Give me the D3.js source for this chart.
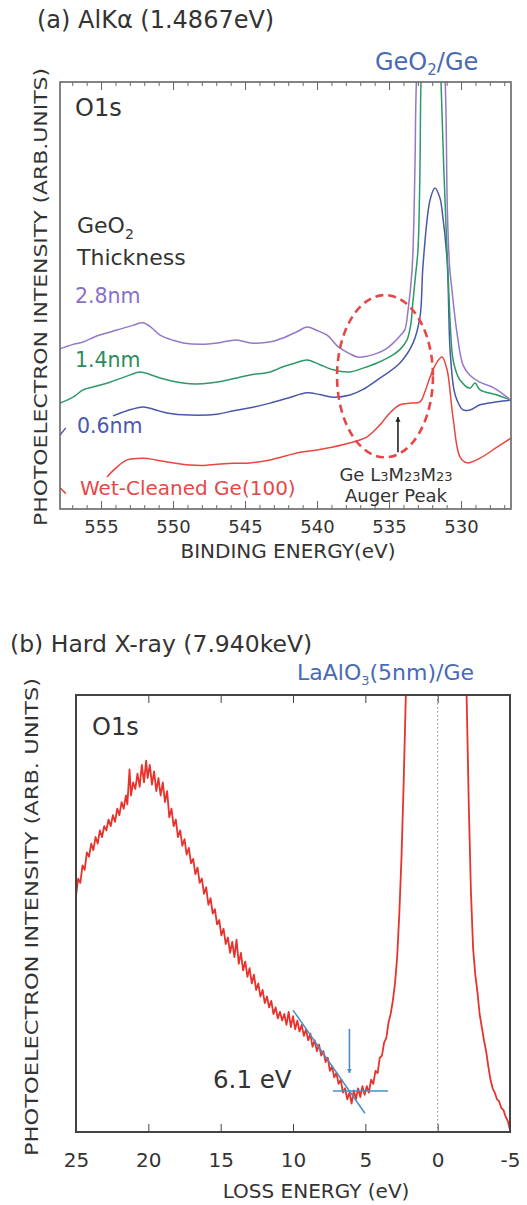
<!DOCTYPE html>
<html>
<head>
<meta charset="utf-8">
<script src="https://cdn.jsdelivr.net/npm/d3@7"></script>
<style>
body { margin: 0; background: #fff; }
svg text { font-family: "DejaVu Sans", sans-serif; fill: #333; }
</style>
</head>
<body>
<div id="chart"></div>
<script>
const width = 527;
const height = 1205;

// ---- (a) O1s spectra : [binding energy (eV), intensity (arb.)]
const thick28 = [[557.85,37.5],[557.0,38.5],[556.25,39.1],[555.3,40.5],[553.9,41.9],[552.8,43],[552.1,43.6],[551.5,42.5],[550.9,40.7],[550.0,39.5],[549.3,38.9],[548.0,38.6],[546.9,38.9],[545.6,39.6],[544.6,38.9],[543.3,39.1],[542.4,40.0],[541.4,41.5],[540.7,42.6],[540.0,41.8],[539.3,40.7],[538.5,37.9],[537.8,36.5],[537.2,35.6],[536.5,35.8],[535.8,36.5],[535.2,37.5],[534.7,38.9],[534.2,40.7],[533.9,42],[533.7,46],[533.4,56],[533.2,80],[533.1,100],[532.6,130],[532.1,140],[531.6,130],[531.1,100],[530.95,70],[530.8,57],[530.63,51.3],[530.28,41.2],[529.86,33.7],[529.4,31.4],[528.7,29.7],[528.0,28.8],[527.5,27.9],[526.55,25.5]];
const thick14 = [[557.85,24.8],[557.36,25.5],[556.8,26.5],[556.25,27.9],[555.3,28.8],[554.38,29.7],[553.3,31],[552.29,32.1],[551.6,31.5],[550.9,30.7],[550.1,30],[549.31,29.5],[548.4,29.3],[547.43,29.5],[546.5,30],[545.56,30.7],[544.65,31.4],[543.26,32.1],[542.36,33.3],[541.5,34.2],[540.69,34.9],[539.8,33.8],[538.89,32.6],[537.71,32.1],[536.8,33],[535.83,34.2],[534.72,36.1],[534.2,37.5],[533.75,39.6],[533.5,43],[533.33,48.9],[533.15,55],[532.99,60.7],[532.85,80],[532.78,100],[532.4,130],[532.08,140],[531.7,130],[531.39,100],[531.2,80],[531.04,66],[530.9,55],[530.76,44],[530.6,36],[530.42,33],[530.07,30.2],[529.38,28.3],[529.03,29.5],[528.68,27.9],[527.5,26.7],[526.53,25.5]];
const thick06 = [[554.17,21.8],[553.2,23],[552.08,23.9],[551.2,23.2],[550.42,22.5],[548.82,22.0],[546.94,22.2],[545.8,23],[544.65,23.7],[543.26,24.8],[542.0,26],[540.69,27.2],[539.8,26.8],[538.89,26.2],[537.71,26.7],[536.8,28],[535.83,30.2],[534.24,34.2],[533.33,38.9],[532.85,45.0],[532.64,57.1],[532.15,72.4],[531.81,75.2],[531.46,72.8],[531.32,70.0],[530.97,58.3],[530.76,37.2],[530.49,27.9],[530.28,25.5],[529.86,23.2],[529.38,23.2],[528.68,24.4],[527.5,25.1],[526.53,25.5]];
const wetGe = [[554.58,7.5],[554.0,9.5],[553.19,11.5],[552.08,11.9],[551.2,11.5],[550.42,11.0],[549.6,10.6],[548.82,10.3],[547.9,10.2],[546.94,10.5],[545.8,10.7],[544.65,10.8],[543.26,11.5],[542.2,12.4],[541.18,13.3],[540.0,13.8],[538.89,14.5],[537.7,15.5],[536.53,16.9],[535.63,19.7],[535.2,21.5],[534.72,23.2],[534.24,24.4],[533.5,24.8],[532.85,25.1],[532.5,27.5],[532.15,30.9],[531.67,34.4],[531.32,35.6],[530.97,32.6],[530.56,21.5],[530.07,12.2],[529.58,10.8],[528.68,11.9],[527.5,14.5],[526.53,16.6]];
const topMajor = [555, 550, 545, 540, 535, 530];
const topMinor = d3.range(527, 558, 1);

// ---- (b) O1s loss spectrum : [loss energy (eV), intensity (arb.)]
const lossO1s = [[25.0,54],[24.85,58],[24.7,57],[24.55,61],[24.4,60],[24.25,64],[24.1,63],[23.95,66],[23.8,64.5],[23.65,67.5],[23.5,66],[23.35,69],[23.2,67.5],[23.05,70],[22.9,69],[22.75,71.5],[22.6,70],[22.45,72.5],[22.3,71],[22.15,74],[22.0,72.5],[21.85,75.5],[21.7,74],[21.55,77],[21.45,75],[21.3,83],[21.2,77],[21.05,80],[20.9,78.5],[20.75,82],[20.6,79],[20.45,84],[20.3,80],[20.15,85],[20.05,81],[19.9,84],[19.75,79.5],[19.6,82.5],[19.45,78],[19.3,81],[19.15,77],[19.0,80],[18.85,75.5],[18.7,78],[18.55,72],[18.4,74],[18.25,70],[18.1,71.5],[17.95,67.5],[17.8,69],[17.65,65.5],[17.5,67],[17.35,63.5],[17.2,65],[17.05,61.5],[16.9,62.5],[16.75,59],[16.6,60.5],[16.45,57],[16.3,58],[16.15,54.5],[16.0,56],[15.85,52],[15.7,53.5],[15.55,50],[15.4,51],[15.25,47.5],[15.1,48.5],[14.95,45],[14.8,46.5],[14.65,43],[14.5,44.5],[14.35,41],[14.2,43.5],[14.05,40],[13.9,44],[13.75,38.5],[13.6,41],[13.45,37],[13.3,39],[13.15,35.5],[13.0,37.5],[12.85,34],[12.7,36],[12.55,32.5],[12.4,34],[12.25,31],[12.1,32.5],[11.95,29.5],[11.8,31],[11.65,28.5],[11.5,30],[11.35,27],[11.2,28.5],[11.05,26],[10.9,27.5],[10.75,25.5],[10.6,27],[10.45,24.5],[10.3,27.5],[10.15,24],[10.0,26.5],[9.85,23.5],[9.7,25.5],[9.55,23],[9.4,24.5],[9.25,22],[9.1,23.5],[8.95,21],[8.8,22.5],[8.65,19.5],[8.5,21],[8.35,18.5],[8.2,20],[8.05,17.5],[7.9,18.5],[7.75,16],[7.6,17],[7.45,14],[7.3,15],[7.15,12.5],[7.0,13.5],[6.85,11],[6.7,12],[6.55,9],[6.4,10],[6.25,7.5],[6.1,9],[5.95,6.5],[5.8,9.5],[5.65,7.5],[5.5,10],[5.35,8],[5.2,10.5],[5.05,8.5],[4.9,10.5],[4.75,9],[4.6,12],[4.45,11],[4.3,14],[4.15,13.5],[4.0,17],[3.85,17.5],[3.7,20.5],[3.55,21.5],[3.4,25],[3.25,27],[3.1,30],[2.95,34],[2.8,40],[2.65,50],[2.5,63],[2.35,80],[2.2,100],[1.8,160],[1.2,230],[0.5,280],[0,300],[-0.5,280],[-1.2,230],[-1.7,160],[-2.0,100],[-2.15,75],[-2.3,55],[-2.45,42],[-2.6,36],[-2.75,32],[-2.9,27],[-3.05,24],[-3.2,21],[-3.35,18.5],[-3.5,15],[-3.65,12],[-3.8,10],[-3.95,9],[-4.1,7.5],[-4.25,7],[-4.4,5.5],[-4.55,5],[-4.7,3.5],[-4.85,2.5],[-5.0,0.5]];
const botTicks = [25, 20, 15, 10, 5, 0, -5];
// onset fit lines (eV, intensity)
const slopeFit = [[10.0, 27.9], [5.03, 4.3]];
const baseFit = [[7.24, 9.4], [3.44, 9.4]];
const onset = 6.1;

const svg = d3.select("#chart").append("svg")
  .attr("width", width)
  .attr("height", height);

const defs = svg.append("defs");
defs.append("marker")
  .attr("id", "headBlack").attr("viewBox", "0 0 10 10")
  .attr("refX", 9).attr("refY", 5)
  .attr("markerWidth", 3.2).attr("markerHeight", 4.5)
  .attr("orient", "auto")
  .append("path").attr("d", "M0,0 L10,5 L0,10 z").attr("fill", "#222");
defs.append("marker")
  .attr("id", "headBlue").attr("viewBox", "0 0 10 10")
  .attr("refX", 9).attr("refY", 5)
  .attr("markerWidth", 3).attr("markerHeight", 4)
  .attr("orient", "auto")
  .append("path").attr("d", "M0,0 L10,5 L0,10 z").attr("fill", "#4a8fc4");

function frame(x0, x1, y0, y1, id) {
  defs.append("clipPath").attr("id", id)
    .append("rect").attr("x", x0).attr("y", y0)
    .attr("width", x1 - x0).attr("height", y1 - y0);
}

// ================= panel (a)
const xa = d3.scaleLinear().domain([557.85, 526.53]).range([60, 511]);
const ya = d3.scaleLinear().domain([0, 100]).range([509, 82]);
frame(60, 511, 82, 509, "clipA");

const lineA = d3.line()
  .x(d => xa(d[0]))
  .y(d => ya(d[1]))
  .curve(d3.curveCatmullRom);

const gA = svg.append("g").attr("clip-path", "url(#clipA)");
const seriesA = [
  {data: wetGe, color: "#e8463f"},
  {data: thick06, color: "#4a58aa"},
  {data: thick14, color: "#2f9868"},
  {data: thick28, color: "#9479c6"}
];
seriesA.forEach(s => {
  gA.append("path")
    .attr("d", lineA(s.data))
    .attr("fill", "none")
    .attr("stroke", s.color)
    .attr("stroke-width", 1.5);
});

// leader marks at left edge
gA.append("line")
  .attr("x1", xa(557.85)).attr("y1", ya(17.3))
  .attr("x2", xa(557.45)).attr("y2", ya(19.0))
  .attr("stroke", "#4a58aa").attr("stroke-width", 1.5);
gA.append("line")
  .attr("x1", xa(557.85)).attr("y1", ya(5.0))
  .attr("x2", xa(557.45)).attr("y2", ya(3.6))
  .attr("stroke", "#e8463f").attr("stroke-width", 1.5);

// dashed ellipse round the Auger region
const ellCx = 535.28, ellCy = 31.1;
svg.append("ellipse")
  .attr("cx", xa(ellCx)).attr("cy", ya(ellCy))
  .attr("rx", Math.abs(xa(ellCx + 3.33) - xa(ellCx)))
  .attr("ry", Math.abs(ya(ellCy + 19.0) - ya(ellCy)))
  .attr("fill", "none")
  .attr("stroke", "#e64646")
  .attr("stroke-width", 2.6)
  .attr("stroke-dasharray", "8,5");

// arrow to the Auger peak
svg.append("line")
  .attr("x1", xa(534.38)).attr("y1", ya(13.3))
  .attr("x2", xa(534.38)).attr("y2", ya(21.5))
  .attr("stroke", "#222").attr("stroke-width", 1.6)
  .attr("marker-end", "url(#headBlack)");

// axes (a)
const tickColor = "#666";
svg.append("g").attr("transform", "translate(0,509)")
  .call(d3.axisBottom(xa).tickValues(topMinor).tickSize(-4).tickFormat(""))
  .call(g => g.select(".domain").remove())
  .call(g => g.selectAll("line").attr("stroke", tickColor));
svg.append("g").attr("transform", "translate(0,82)")
  .call(d3.axisTop(xa).tickValues(topMinor).tickSize(-4).tickFormat(""))
  .call(g => g.select(".domain").remove())
  .call(g => g.selectAll("line").attr("stroke", tickColor));
svg.append("g").attr("transform", "translate(0,509)")
  .call(d3.axisBottom(xa).tickValues(topMajor).tickSize(-8).tickPadding(11).tickFormat(d => String(d)))
  .call(g => g.select(".domain").remove())
  .call(g => g.selectAll("line").attr("stroke", tickColor))
  .call(g => g.selectAll("text").attr("font-size", 18).attr("fill", "#333")
    .attr("font-family", "DejaVu Sans"));
svg.append("g").attr("transform", "translate(0,82)")
  .call(d3.axisTop(xa).tickValues(topMajor).tickSize(-8).tickFormat(""))
  .call(g => g.select(".domain").remove())
  .call(g => g.selectAll("line").attr("stroke", tickColor));

svg.append("rect")
  .attr("x", 60).attr("y", 82).attr("width", 451).attr("height", 427)
  .attr("fill", "none").attr("stroke", "#666").attr("stroke-width", 1.6);

// texts (a)
svg.append("text").attr("x", 37).attr("y", 28).attr("font-size", 24)
  .text("(a) AlKα (1.4867eV)");
const geT = svg.append("text").attr("x", 375).attr("y", 70).attr("font-size", 24)
  .style("fill", "#4a6ab5");
geT.append("tspan").text("GeO");
geT.append("tspan").attr("font-size", 15).attr("dy", 5).text("2");
geT.append("tspan").attr("dy", -5).text("/Ge");

svg.append("text").attr("x", 75).attr("y", 116).attr("font-size", 24).text("O1s");
const gt = svg.append("text").attr("x", 77).attr("y", 233).attr("font-size", 22);
gt.append("tspan").text("GeO");
gt.append("tspan").attr("font-size", 14).attr("dy", 6).text("2");
svg.append("text").attr("x", 77).attr("y", 265).attr("font-size", 22).text("Thickness");
svg.append("text").attr("x", 75).attr("y", 303).attr("font-size", 20.5)
  .style("fill", "#8a70c8").text("2.8nm");
svg.append("text").attr("x", 75).attr("y", 367).attr("font-size", 20.5)
  .style("fill", "#2c8c5c").text("1.4nm");
svg.append("text").attr("x", 77).attr("y", 433).attr("font-size", 20.5)
  .style("fill", "#4a58b0").text("0.6nm");
svg.append("text").attr("x", 80).attr("y", 495).attr("font-size", 20)
  .style("fill", "#e64848").text("Wet-Cleaned Ge(100)");

const aug = svg.append("text").attr("x", 396).attr("y", 481)
  .attr("font-size", 18).attr("text-anchor", "middle");
aug.append("tspan").text("Ge L");
aug.append("tspan").attr("font-size", 13).text("3");
aug.append("tspan").text("M");
aug.append("tspan").attr("font-size", 13).text("23");
aug.append("tspan").text("M");
aug.append("tspan").attr("font-size", 13).text("23");
svg.append("text").attr("x", 396).attr("y", 502).attr("font-size", 18)
  .attr("text-anchor", "middle").text("Auger Peak");

svg.append("text").attr("x", 288).attr("y", 558).attr("font-size", 20)
  .attr("text-anchor", "middle").text("BINDING ENERGY(eV)");
svg.append("text")
  .attr("transform", "translate(47,297) rotate(-90)")
  .attr("font-size", 17).attr("text-anchor", "middle")
  .attr("textLength", 458).attr("lengthAdjust", "spacingAndGlyphs")
  .text("PHOTOELECTRON INTENSITY (ARB.UNITS)");

// ================= panel (b)
const xb = d3.scaleLinear().domain([25, -5]).range([76, 510]);
const yb = d3.scaleLinear().domain([0, 100]).range([1132, 695]);
frame(76, 510, 695, 1132, "clipB");

const lineB = d3.line()
  .x(d => xb(d[0]))
  .y(d => yb(d[1]));

const gB = svg.append("g").attr("clip-path", "url(#clipB)");

// zero-loss marker
gB.append("line")
  .attr("x1", xb(0)).attr("x2", xb(0))
  .attr("y1", 695).attr("y2", 1132)
  .attr("stroke", "#6b8fd0").attr("stroke-width", 1)
  .attr("stroke-dasharray", "1.5,2.5");

gB.append("path")
  .attr("d", lineB(lossO1s))
  .attr("fill", "none")
  .attr("stroke", "#e8322c")
  .attr("stroke-width", 1.8)
  .attr("stroke-linejoin", "round");

[slopeFit, baseFit].forEach(f => {
  gB.append("path")
    .attr("d", lineB(f))
    .attr("fill", "none")
    .attr("stroke", "#4a8fc4")
    .attr("stroke-width", 1.5);
});

svg.append("line")
  .attr("x1", xb(onset)).attr("x2", xb(onset))
  .attr("y1", yb(23.6)).attr("y2", yb(13.5))
  .attr("stroke", "#4a8fc4").attr("stroke-width", 1.6)
  .attr("marker-end", "url(#headBlue)");

svg.append("g").attr("transform", "translate(0,1132)")
  .call(d3.axisBottom(xb).tickValues(botTicks).tickSize(-8).tickPadding(21).tickFormat(d => String(d)))
  .call(g => g.select(".domain").remove())
  .call(g => g.selectAll("line").attr("stroke", "#444"))
  .call(g => g.selectAll("text").attr("font-size", 20).attr("fill", "#333")
    .attr("font-family", "DejaVu Sans"));
svg.append("g").attr("transform", "translate(0,695)")
  .call(d3.axisTop(xb).tickValues(botTicks).tickSize(-8).tickFormat(""))
  .call(g => g.select(".domain").remove())
  .call(g => g.selectAll("line").attr("stroke", "#444"));

svg.append("rect")
  .attr("x", 76).attr("y", 695).attr("width", 434).attr("height", 437)
  .attr("fill", "none").attr("stroke", "#444").attr("stroke-width", 2);

svg.append("text").attr("x", 10).attr("y", 652).attr("font-size", 23.5)
  .text("(b) Hard X-ray (7.940keV)");
const la = svg.append("text").attr("x", 297).attr("y", 680).attr("font-size", 22)
  .style("fill", "#4a6ab5");
la.append("tspan").text("LaAlO");
la.append("tspan").attr("font-size", 13).attr("dy", 5).text("3");
la.append("tspan").attr("dy", -5).text("(5nm)/Ge");

svg.append("text").attr("x", 92).attr("y", 735).attr("font-size", 24).text("O1s");
svg.append("text").attr("x", 213).attr("y", 1088).attr("font-size", 24.5).text("6.1 eV");
svg.append("text").attr("x", 316).attr("y", 1198).attr("font-size", 20)
  .attr("text-anchor", "middle").text("LOSS ENERGY (eV)");
svg.append("text")
  .attr("transform", "translate(38,917) rotate(-90)")
  .attr("font-size", 18).attr("text-anchor", "middle")
  .attr("textLength", 478).attr("lengthAdjust", "spacingAndGlyphs")
  .text("PHOTOELECTRON INTENSITY (ARB. UNITS)");
</script>
</body>
</html>
